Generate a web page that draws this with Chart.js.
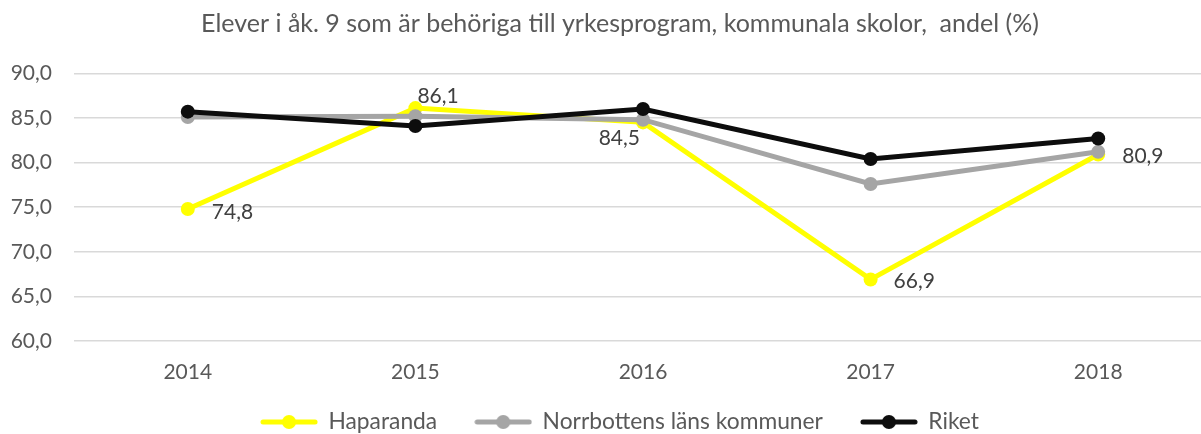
<!DOCTYPE html>
<html>
<head>
<meta charset="utf-8">
<script src="https://cdn.jsdelivr.net/npm/chart.js@4.4.0/dist/chart.umd.min.js"></script>
<style>
html,body{margin:0;padding:0;background:#fff;overflow:hidden;}
#wrap{width:1240px;height:434px;}
</style>
</head>
<body>
<div id="wrap"><canvas id="c" width="1240" height="434"></canvas></div>
<script>
const years = ['2014', '2015', '2016', '2017', '2018'];
const haparanda = [74.8, 86.1, 84.5, 66.9, 80.9];
const norrbotten = [85.1, 85.2, 84.8, 77.6, 81.2];
const riket = [85.7, 84.1, 86.0, 80.4, 82.7];
const seriesNames = ['Haparanda', 'Norrbottens läns kommuner', 'Riket'];
const titleText = 'Elever i åk. 9 som är behöriga till yrkesprogram, kommunala skolor,  andel (%)';

const FONT = 'Lato';
const colors = ['#FFFF00', '#A5A5A5', '#0D0D0D'];

function legendIcon(color) {
  const cv = document.createElement('canvas');
  cv.width = 58; cv.height = 16;
  const g = cv.getContext('2d');
  g.strokeStyle = color; g.lineWidth = 5; g.lineCap = 'round';
  g.beginPath(); g.moveTo(3, 8); g.lineTo(55, 8); g.stroke();
  g.fillStyle = color; g.beginPath(); g.arc(29, 8, 7, 0, Math.PI * 2); g.fill();
  return cv;
}
const icons = colors.map(legendIcon);

// label placement for Haparanda: [dx, dy, textAlign]
const labelPlacement = [[24, 3, 'left'], [2, -12, 'left'], [-3, 16, 'right'], [23, 2, 'left'], [24, 2, 'left']];

const dataLabels = {
  id: 'dataLabels',
  afterDatasetsDraw(chart) {
    const meta = chart.getDatasetMeta(0);
    const ctx = chart.ctx;
    ctx.save();
    ctx.font = '21px ' + FONT;
    ctx.fillStyle = '#404040';
    ctx.textBaseline = 'middle';
    meta.data.forEach((pt, i) => {
      const p = labelPlacement[i];
      ctx.textAlign = p[2];
      ctx.fillText(haparanda[i].toFixed(1).replace('.', ','), pt.x + p[0], pt.y + p[1]);
    });
    ctx.restore();
  }
};

// centre title and legend on the full chart width, lift legend a little
const shiftBlocks = {
  id: 'shiftBlocks',
  afterLayout(chart) {
    [chart.titleBlock, chart.legend].forEach(b => {
      if (b) { b.left += 14; b.right += 14; }
    });
    if (chart.legend) { chart.legend.top -= 13.4; chart.legend.bottom -= 13.4; }
  }
};

const series = [haparanda, norrbotten, riket];
new Chart(document.getElementById('c'), {
  type: 'line',
  data: {
    labels: years,
    datasets: series.map((d, i) => ({
      label: seriesNames[i],
      data: d,
      borderColor: colors[i],
      backgroundColor: colors[i],
      borderWidth: 5,
      pointRadius: 7,
      pointBorderWidth: 0,
      pointBackgroundColor: colors[i],
      pointStyle: 'circle',
      tension: 0,
      order: 3 - i
    }))
  },
  options: {
    responsive: false,
    animation: false,
    layout: { padding: { left: 0, right: 28, top: 0, bottom: -22.8 } },
    plugins: {
      tooltip: { enabled: false },
      title: {
        display: true,
        text: titleText,
        color: '#595959',
        font: { family: FONT, size: 25, weight: 'normal', lineHeight: 1.2 },
        padding: { top: 9, bottom: 34.3 }
      },
      legend: {
        position: 'bottom',
        labels: {
          usePointStyle: true,
          pointStyleWidth: 56,
          color: '#595959',
          font: { family: FONT, size: 22.8 },
          padding: 38,
          sort: (a, b) => a.datasetIndex - b.datasetIndex,
          generateLabels(chart) {
            return chart.data.datasets.map((ds, i) => ({
              text: ds.label,
              pointStyle: icons[i],
              fillStyle: colors[i],
              strokeStyle: colors[i],
              lineWidth: 0,
              hidden: false,
              datasetIndex: i,
              fontColor: '#595959'
            }));
          }
        }
      }
    },
    scales: {
      x: {
        offset: true,
        afterFit(scale) { scale.height = 45; },
        grid: { display: false, drawTicks: false },
        border: { display: false },
        ticks: { color: '#595959', font: { family: FONT, size: 21 }, padding: 19, maxRotation: 0 }
      },
      y: {
        min: 60, max: 90,
        afterFit(scale) { scale.width = 74; },
        grid: { color: '#D9D9D9', lineWidth: 1.5, drawTicks: false },
        border: { display: false },
        ticks: {
          stepSize: 5,
          padding: 22,
          color: '#595959',
          font: { family: FONT, size: 21 },
          callback: v => v.toFixed(1).replace('.', ',')
        }
      }
    }
  },
  plugins: [dataLabels, shiftBlocks]
});
</script>
</body>
</html>
